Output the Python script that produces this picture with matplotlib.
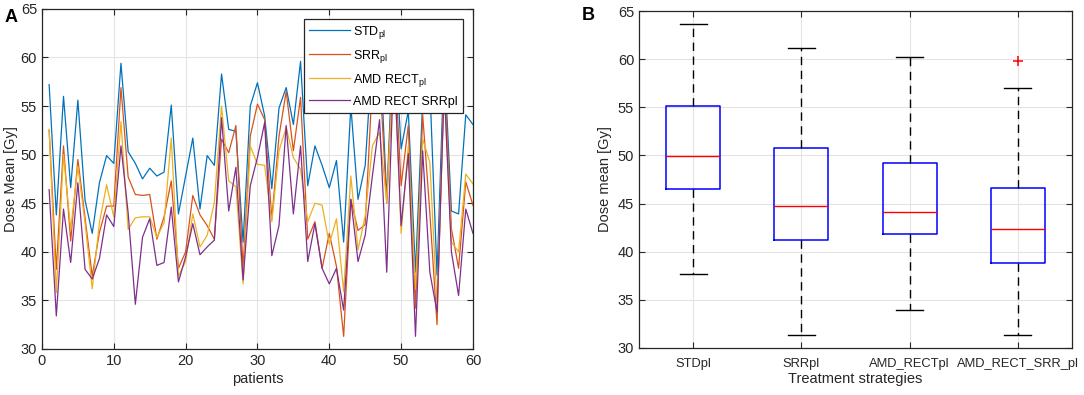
import matplotlib

matplotlib.use('Agg')
import matplotlib.pyplot as plt
import numpy as np

plt.rcParams['font.family'] = ['Liberation Sans', 'DejaVu Sans']
plt.rcParams['mathtext.default'] = 'regular'

# ---- data ----
patients = np.arange(1, 61)

std_pl = [57.2, 43.8, 56.0, 46.6, 55.6, 45.3, 41.9, 47.1, 49.9, 49.1,
          59.4, 50.3, 49.1, 47.5, 48.6, 47.8, 48.2, 55.1, 43.9, 47.8,
          51.7, 44.4, 49.9, 48.9, 58.3, 52.6, 52.4, 41.0, 55.0, 57.4,
          54.0, 46.5, 54.8, 56.9, 53.1, 59.6, 46.8, 50.9, 48.9, 46.6,
          49.4, 41.0, 55.0, 45.4, 48.9, 60.5, 62.0, 45.4, 63.7, 50.6,
          54.5, 37.9, 55.5, 57.0, 37.6, 60.0, 44.2, 43.9, 54.1, 53.1]
srr_pl = [52.5, 38.2, 50.9, 41.1, 49.5, 43.5, 37.5, 42.0, 44.7, 44.7,
          56.9, 47.7, 45.9, 45.8, 45.9, 41.3, 43.6, 47.3, 38.3, 40.0,
          45.8, 43.8, 42.7, 41.3, 51.6, 50.2, 53.0, 38.3, 51.9, 55.2,
          53.6, 43.4, 51.9, 56.5, 50.4, 55.9, 41.3, 43.1, 38.3, 41.9,
          38.5, 31.3, 45.4, 42.2, 42.8, 57.5, 58.5, 45.0, 61.2, 46.8,
          53.0, 34.2, 54.1, 44.0, 32.5, 58.5, 42.4, 38.3, 47.2, 44.8]
amd_rect_pl = [52.6, 35.8, 50.0, 42.3, 48.8, 43.0, 36.2, 43.0, 46.9, 43.6,
               53.4, 42.3, 43.5, 43.6, 43.6, 41.5, 43.0, 51.7, 37.5, 39.0,
               43.9, 40.5, 41.7, 45.1, 55.0, 47.3, 46.7, 36.7, 50.9, 49.0,
               48.9, 43.1, 50.4, 52.8, 49.7, 48.5, 43.1, 45.0, 44.8, 40.8,
               43.4, 35.9, 47.8, 40.2, 43.7, 50.9, 52.3, 45.1, 60.2, 41.9,
               50.9, 36.2, 51.6, 49.2, 34.5, 57.0, 41.0, 40.0, 48.0, 47.0]
amd_rect_srr_pl = [46.4, 33.4, 44.4, 38.9, 47.1, 38.2, 37.2, 39.3, 43.8, 42.6,
                   50.9, 44.0, 34.6, 41.5, 43.4, 38.6, 38.9, 44.6, 36.9, 39.5,
                   42.9, 39.7, 40.5, 41.2, 53.8, 44.2, 48.7, 37.1, 46.8, 49.7,
                   53.3, 39.6, 42.7, 53.0, 43.9, 50.9, 39.0, 42.9, 38.3, 36.7,
                   38.3, 34.0, 45.4, 39.0, 41.7, 47.8, 53.6, 37.9, 59.8, 42.7,
                   50.1, 31.3, 50.4, 37.9, 33.8, 57.0, 40.0, 35.5, 44.4, 41.9]

legend_labels = ['STD$_{pl}$', 'SRR$_{pl}$', 'AMD RECT$_{pl}$', 'AMD RECT SRRpl']
line_colors = ['#0072BD', '#D95319', '#EDB120', '#7E2F8E']

# box plot statistics as shown in panel B
strategies = ['STDpl', 'SRRpl', 'AMD_RECTpl', 'AMD_RECT_SRR_pl']
q1 = [46.5, 41.2, 41.8, 38.8]
medians = [49.9, 44.7, 44.1, 42.4]
q3 = [55.1, 50.8, 49.2, 46.6]
whisk_lo = [37.7, 31.3, 33.9, 31.3]
whisk_hi = [63.7, 61.2, 60.2, 57.0]
outliers = [[], [], [], [59.8]]

# ---- figure ----
fig = plt.figure(figsize=(10.84, 3.95), dpi=100)
ax1 = fig.add_axes([0.0387, 0.1165, 0.3976, 0.861])
ax2 = fig.add_axes([0.5895, 0.119, 0.3994, 0.853])

fs = 10.5


def matlab_style(ax):
    ax.grid(True, color='#e3e3e3', linewidth=0.8)
    ax.set_axisbelow(True)
    ax.tick_params(direction='in', top=True, right=True, labelsize=fs,
                   colors='#262626', length=4, width=0.8)
    for sp in ax.spines.values():
        sp.set_color('#262626')
        sp.set_linewidth(0.9)


# panel A
series = [std_pl, srr_pl, amd_rect_pl, amd_rect_srr_pl]
for vals, lab, col in zip(series, legend_labels, line_colors):
    ax1.plot(patients, vals, color=col, linewidth=0.9, label=lab)
ax1.set_xlim(0, 60)
ax1.set_ylim(30, 65)
ax1.set_xticks(np.arange(0, 61, 10))
ax1.set_yticks(np.arange(30, 66, 5))
matlab_style(ax1)
ax1.set_xlabel('patients', fontsize=fs, color='#262626', labelpad=3)
ax1.set_ylabel('Dose Mean [Gy]', fontsize=fs, color='#262626', labelpad=2)
leg = ax1.legend(loc='upper right', fontsize=9, fancybox=False, framealpha=1,
                 edgecolor='#262626', handlelength=3.3, borderaxespad=0.8,
                 labelspacing=0.55, handletextpad=0.25, borderpad=0.4)
leg.get_frame().set_linewidth(0.9)

# panel B
stats = []
for i in range(len(strategies)):
    stats.append({'q1': q1[i], 'med': medians[i], 'q3': q3[i],
                  'whislo': whisk_lo[i], 'whishi': whisk_hi[i],
                  'fliers': outliers[i], 'label': strategies[i]})
ax2.bxp(stats, positions=np.arange(1, 5), widths=0.5,
        boxprops=dict(color='#0000ff', linewidth=1.1),
        medianprops=dict(color='#ff0000', linewidth=1.0),
        whiskerprops=dict(color='#000000', linestyle=(0, (6, 4)), linewidth=1.0),
        capprops=dict(color='#000000', linewidth=1.0),
        flierprops=dict(marker='+', markeredgecolor='#ff0000', markersize=7,
                        markeredgewidth=1.1))
ax2.set_xlim(0.5, 4.5)
ax2.set_ylim(30, 65)
ax2.set_yticks(np.arange(30, 66, 5))
matlab_style(ax2)
ax2.tick_params(axis='x', pad=7, labelsize=9.3)
ax2.set_xlabel('Treatment strategies', fontsize=fs, color='#262626', labelpad=2)
ax2.set_ylabel('Dose mean [Gy]', fontsize=fs, color='#262626', labelpad=4)

fig.text(0.004, 0.955, 'A', fontsize=13, fontweight='bold', ha='left', va='center')
fig.text(0.537, 0.96, 'B', fontsize=13, fontweight='bold', ha='left', va='center')

fig.savefig('out.png', dpi=100)
